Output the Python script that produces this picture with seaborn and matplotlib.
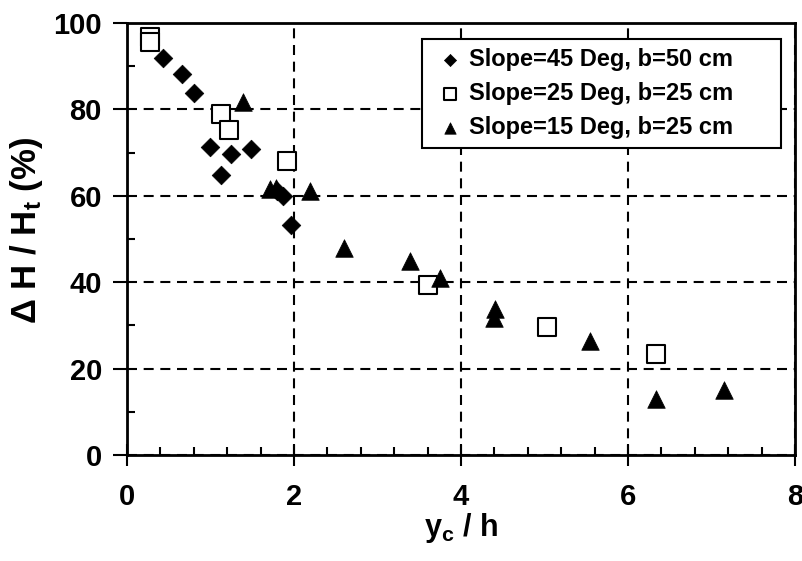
import matplotlib
matplotlib.use("Agg")
import matplotlib.pyplot as plt
import seaborn as sns
import pandas as pd
from matplotlib.ticker import MultipleLocator

sns.set_theme(style="white")
plt.rcParams['font.family'] = ['Liberation Sans', 'DejaVu Sans']
plt.rcParams['font.weight'] = 'bold'
plt.rcParams['mathtext.fontset'] = 'custom'
plt.rcParams['mathtext.rm'] = 'Liberation Sans:bold'
plt.rcParams['mathtext.it'] = 'Liberation Sans:bold'
plt.rcParams['mathtext.bf'] = 'Liberation Sans:bold'
for k in ['text.color', 'axes.labelcolor', 'xtick.color', 'ytick.color']:
    plt.rcParams[k] = 'black'

# Data
s45_x = [0.43, 0.66, 0.80, 0.99, 1.13, 1.25, 1.48, 1.80, 1.87, 1.96]
s45_y = [92.0, 88.3, 83.7, 71.3, 64.8, 69.7, 70.8, 61.2, 60.0, 53.2]
s25_x = [0.28, 0.28, 1.13, 1.22, 1.92, 3.60, 5.03, 6.34]
s25_y = [96.8, 95.6, 79.0, 75.2, 68.1, 39.4, 29.6, 23.3]
s15_x = [1.39, 1.71, 1.79, 2.19, 2.60, 3.39, 3.75, 4.41, 4.40, 5.55, 6.34, 7.15]
s15_y = [81.6, 61.5, 61.9, 61.1, 48.0, 44.9, 40.9, 33.7, 31.8, 26.4, 12.9, 15.0]
labels = ["Slope=45 Deg, b=50 cm", "Slope=25 Deg, b=25 cm", "Slope=15 Deg, b=25 cm"]

fig = plt.figure(figsize=(8.03, 5.61), dpi=100)
ax = fig.add_axes([127/803, 1-455/561, (795-127)/803, (455-23)/561])

d45 = pd.DataFrame({"x": s45_x, "y": s45_y})
d25 = pd.DataFrame({"x": s25_x, "y": s25_y})
d15 = pd.DataFrame({"x": s15_x, "y": s15_y})

sns.scatterplot(data=d45, x="x", y="y", ax=ax, marker="D", s=90, color="black",
                edgecolor="black", linewidth=0.5, label=labels[0], zorder=3)
sns.scatterplot(data=d25, x="x", y="y", ax=ax, marker="s", s=170, facecolor="white",
                edgecolor="black", linewidth=1.5, label=labels[1], zorder=3)
sns.scatterplot(data=d15, x="x", y="y", ax=ax, marker="^", s=160, color="black",
                edgecolor="black", linewidth=0.5, label=labels[2], zorder=3)

ax.set_xlim(0, 8)
ax.set_ylim(0, 100)
ax.xaxis.set_major_locator(MultipleLocator(2))
ax.xaxis.set_minor_locator(MultipleLocator(0.4))
ax.yaxis.set_major_locator(MultipleLocator(20))
ax.yaxis.set_minor_locator(MultipleLocator(10))
ax.grid(True, which="major", color="black", linestyle=(0, (4.8, 3.2)), linewidth=1.5)
ax.set_axisbelow(True)
for sp in ax.spines.values():
    sp.set_color("black")
    sp.set_linewidth(2)
ax.tick_params(axis="x", which="major", direction="inout", length=16, width=1.5,
               labelsize=21, pad=12)
ax.tick_params(axis="y", which="major", direction="out", length=10, width=1.5,
               labelsize=21, pad=8)
ax.tick_params(which="minor", direction="in", length=6, width=1.5)
ax.tick_params(axis="both", which="both", bottom=True, left=True, colors="black")
for t in ax.get_xticklabels() + ax.get_yticklabels():
    t.set_fontweight("bold")

ax.set_xlabel("y$_c$ / h", fontsize=22, fontweight="bold", labelpad=0)
ax.set_ylabel("Δ H / H$_t$ (%)", fontsize=25, fontweight="bold")
ax.yaxis.set_label_coords(-0.123, 0.52)

leg = ax.legend(loc="upper left", bbox_to_anchor=(0.4416, 0.963, 0.537, 0), mode="expand",
                frameon=True, fancybox=False, edgecolor="black", fontsize=17,
                markerscale=0.65, handletextpad=0.0, borderpad=0.37, labelspacing=0.48,
                handlelength=1.6, borderaxespad=0, framealpha=1)
leg.get_frame().set_linewidth(1.5)
for t in leg.get_texts():
    t.set_fontweight("bold")

fig.savefig("out.png", dpi=100)
